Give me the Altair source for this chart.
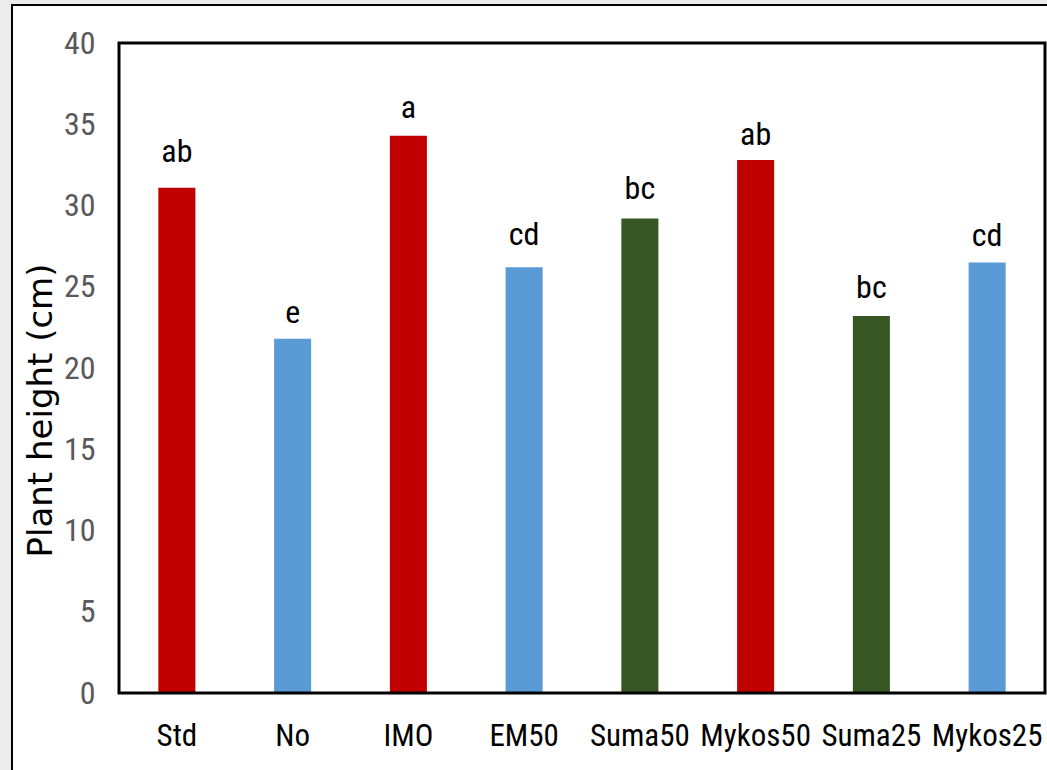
import altair as alt
import pandas as pd

# Plant height per treatment with significance letters
treatments = ["Std", "No", "IMO", "EM50", "Suma50", "Mykos50", "Suma25", "Mykos25"]
heights = [31.1, 21.8, 34.3, 26.2, 29.2, 32.8, 23.2, 26.5]
letters = ["ab", "e", "a", "cd", "bc", "ab", "bc", "cd"]
letter_pos = [32.7, 22.8, 35.4, 27.6, 30.4, 33.7, 24.3, 27.5]
bar_colors = ["#C00000", "#5B9BD5", "#C00000", "#5B9BD5",
              "#375623", "#C00000", "#375623", "#5B9BD5"]
y_ticks = [0, 5, 10, 15, 20, 25, 30, 35, 40]

df = pd.DataFrame({
    "treatment": treatments,
    "height": heights,
    "letter": letters,
    "letter_pos": letter_pos,
})

NARROW = "Roboto Condensed, Open Sans Condensed, Liberation Sans Narrow, Arial Narrow, Liberation Sans, sans-serif"
W, H = 926, 650

x_enc = alt.X(
    "treatment:N",
    sort=treatments,
    scale=alt.Scale(paddingInner=0, paddingOuter=0),
    axis=alt.Axis(
        title=None, labelAngle=0, labelFont=NARROW, labelFontSize=31,
        labelColor="black", labelPadding=28, domain=False, ticks=False,
        grid=False, zindex=1,
    ),
)
y_scale = alt.Scale(domain=[0, 40], nice=False)

one_row = alt.Data(values=[{}])

# outer white panel with thin black border
panel = alt.Chart(one_row).mark_rect(fill="white", stroke="black", strokeWidth=2).encode(
    x=alt.value(-107), x2=alt.value(960), y=alt.value(-38), y2=alt.value(800)
)

bars = alt.Chart(df).mark_bar(width=alt.RelativeBandSize(0.32)).encode(
    x=x_enc,
    y=alt.Y(
        "height:Q",
        scale=y_scale,
        axis=alt.Axis(
            values=y_ticks, title="Plant height (cm)", labelFont=NARROW,
            labelFontSize=32, labelColor="#595959", labelPadding=24,
            domain=False, ticks=False, grid=False, zindex=1,
            titleFont="DejaVu Sans", titleFontSize=34, titleFontWeight="normal",
            titleColor="black", titleX=-78, titleY=367, titleAngle=270,
            titleAlign="center", titleBaseline="middle",
        ),
    ),
    color=alt.Color("treatment:N", scale=alt.Scale(domain=treatments, range=bar_colors), legend=None),
)

labels = alt.Chart(df).mark_text(
    baseline="alphabetic", align="center", font=NARROW, fontSize=32, color="black"
).encode(
    x=alt.X("treatment:N", sort=treatments),
    y=alt.Y("letter_pos:Q", scale=y_scale),
    text="letter:N",
)

# plot-area frame
plot_frame = alt.Chart(one_row).mark_rect(fill=None, stroke="black", strokeWidth=3).encode(
    x=alt.value(0), x2=alt.value(W), y=alt.value(0), y2=alt.value(H)
)

chart = (
    alt.layer(panel, bars, labels, plot_frame)
    .properties(
        width=W, height=H,
        autosize=alt.AutoSizeParams(type="none"),
        padding={"left": 119, "top": 43, "right": 2, "bottom": 77},
        background="#ececec",
    )
    .configure_view(stroke=None)
)

chart.save("out.html", embed_options={"renderer": "svg", "actions": False})
